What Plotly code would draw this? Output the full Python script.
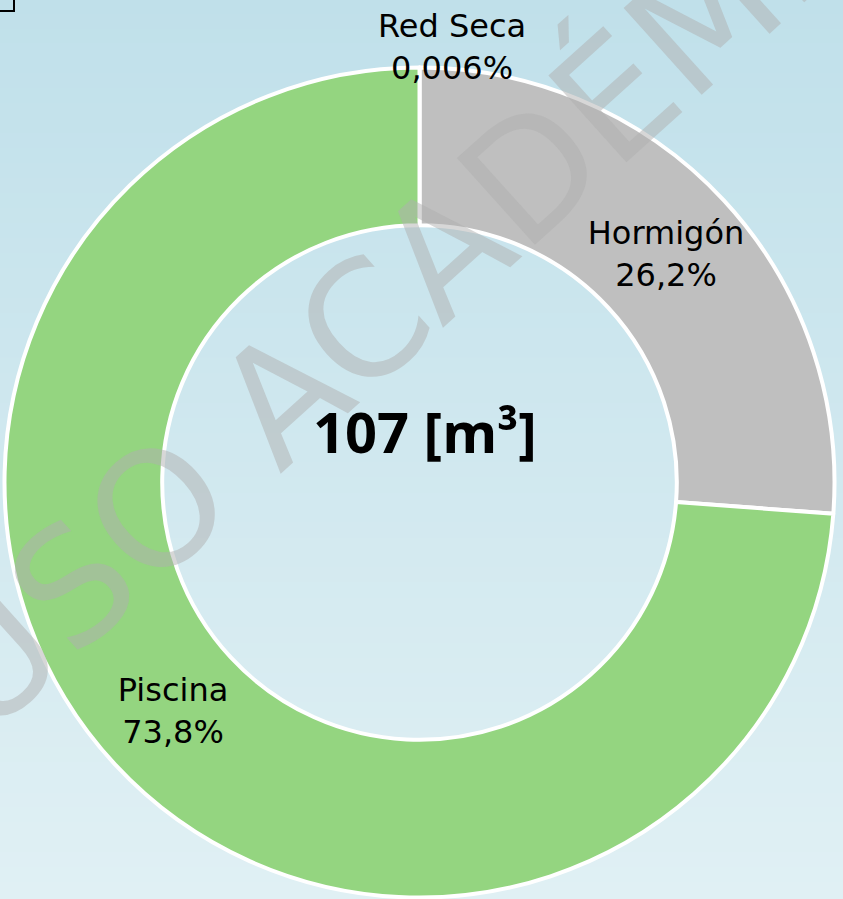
import plotly.graph_objects as go

# volumes per source [m3]
labels = ["Red Seca", "Hormigón", "Piscina"]
volumes = [0.0064, 28.03, 78.97]
colors = ["#4F81BD", "#BFBFBF", "#94D580"]
unit = "m³"
watermark = "USO ACADÉMICO"

W, H = 843, 899
total = sum(volumes)

fig = go.Figure()
fig.add_trace(go.Pie(
    labels=labels, values=volumes, sort=False, direction="clockwise",
    hole=0.62, marker=dict(colors=colors, line=dict(color="white", width=4)),
    texttemplate="%{label}<br>%{percent:.1%}",
    textposition=["none", "inside", "inside"],
    insidetextorientation="horizontal",
    textfont=dict(family="DejaVu Sans", size=32, color="black"),
    showlegend=False, hoverinfo="skip",
    domain=dict(x=[4.5 / W, 834.5 / W], y=[1.5 / H, 831.5 / H]),
))

# background gradient, top to bottom
top, bot = (192, 224, 234), (224, 240, 244)
n = 60
shapes = []
for i in range(n):
    t = i / (n - 1)
    c = tuple(round(a + (b - a) * t) for a, b in zip(top, bot))
    shapes.append(dict(
        type="rect", xref="paper", yref="paper", layer="below",
        x0=0, x1=1, y0=1 - (i + 1) / n, y1=1 - i / n + 0.002,
        fillcolor=f"rgb{c}", line=dict(width=0),
    ))
# selection handle in the corner
shapes.append(dict(
    type="rect", xref="paper", yref="paper",
    x0=-0.02, x1=14 / W, y0=1 - 11 / H, y1=1.02,
    line=dict(color="black", width=2), fillcolor="rgba(0,0,0,0)",
))

pct0 = volumes[0] / total * 100
annotations = [
    dict(text=watermark, x=458 / W, y=1 - 240 / H, xref="paper", yref="paper",
         xanchor="center", yanchor="middle", showarrow=False, textangle=-42,
         font=dict(family="DejaVu Sans", size=160, color="rgba(175,175,175,0.5)")),
    dict(text=f"{labels[0]}<br>{pct0:.3f}%".replace(".", ","),
         x=452 / W, y=1 - 47 / H, xref="paper", yref="paper",
         xanchor="center", yanchor="middle", showarrow=False,
         font=dict(family="DejaVu Sans", size=32, color="black")),
    dict(text=f"<b>{total:.0f} [{unit}]</b>", x=425 / W, y=1 - 431 / H,
         xref="paper", yref="paper", xanchor="center", yanchor="middle",
         showarrow=False,
         font=dict(family="Open Sans", size=56, color="black")),
]

fig.update_layout(
    width=W, height=H, margin=dict(l=0, r=0, t=0, b=0),
    paper_bgcolor="rgb(208,232,239)", separators=",.",
    uniformtext=dict(minsize=32, mode="show"),
    shapes=shapes, annotations=annotations,
)
fig.write_html("out.html", config={"displayModeBar": False},
               post_script="document.body.style.margin = '0';")
